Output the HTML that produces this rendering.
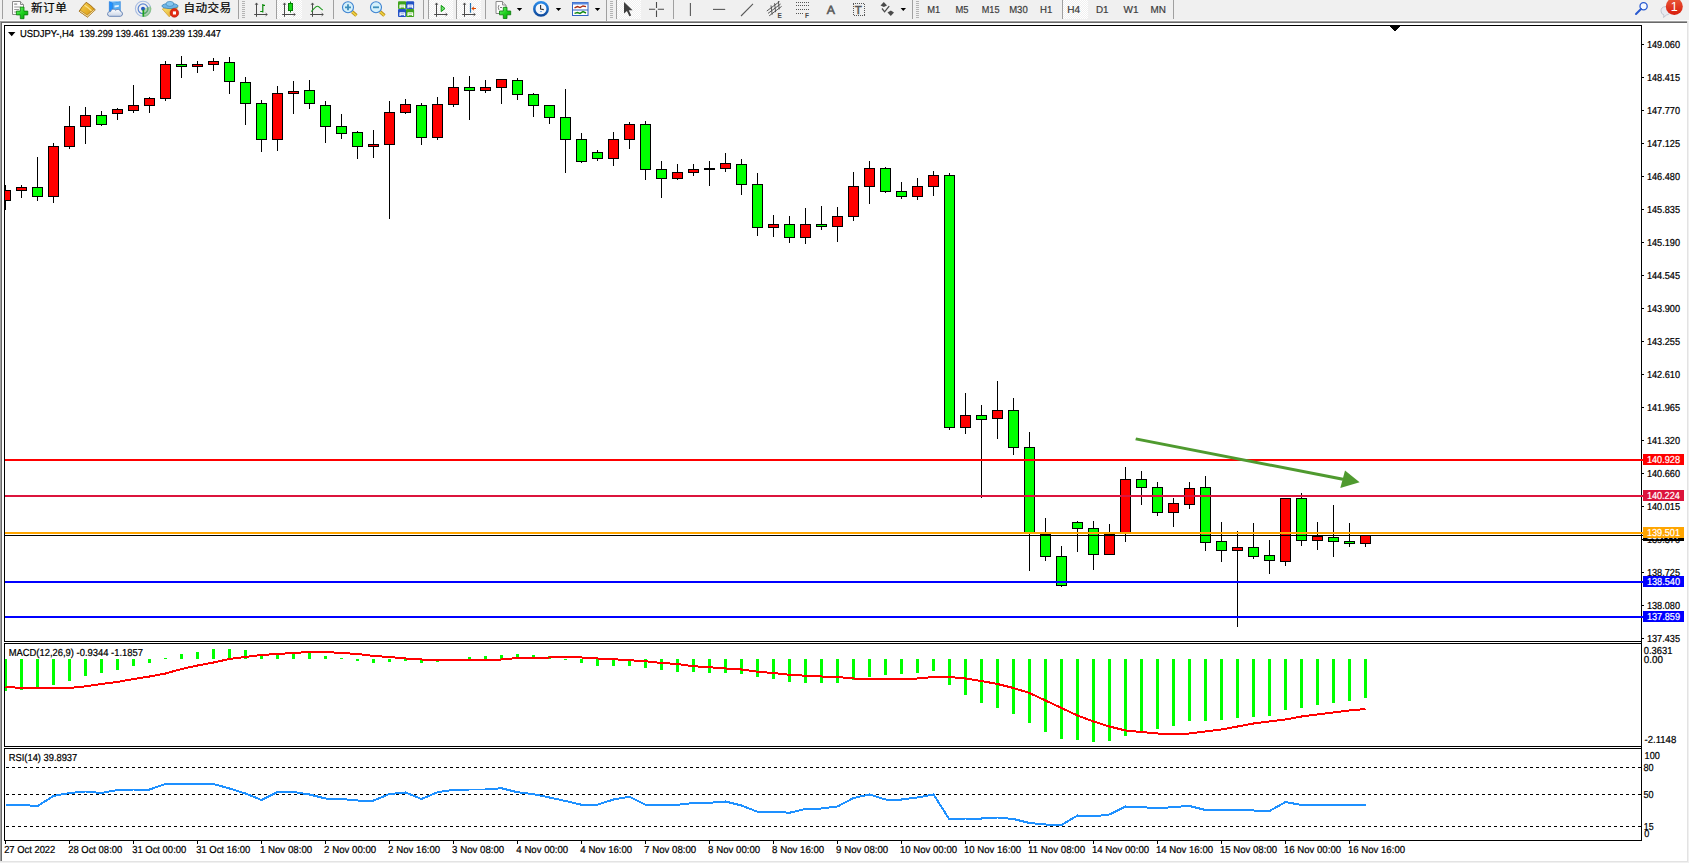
<!DOCTYPE html>
<html><head><meta charset="utf-8"><title>USDJPY-,H4</title>
<style>html,body{margin:0;padding:0;background:#f0f0f0;overflow:hidden}body{width:1689px;height:863px}</style>
</head><body>
<svg width="1689" height="863" viewBox="0 0 1689 863" font-family='"Liberation Sans","Noto Sans CJK SC",sans-serif' style="display:block">
<rect x="0" y="0" width="1689" height="863" fill="#f0f0f0"/>
<g shape-rendering="crispEdges">
<rect x="0" y="20" width="1689" height="1" fill="#fbfbfb"/>
<rect x="0" y="21" width="1687" height="1" fill="#a0a0a0"/>
<rect x="0" y="22" width="1687" height="1" fill="#696969"/>
<rect x="0" y="21" width="1" height="840" fill="#a0a0a0"/>
<rect x="1" y="22" width="1" height="839" fill="#696969"/>
<rect x="2" y="23" width="1685" height="838" fill="#ffffff"/>
<rect x="1687" y="21" width="1" height="841" fill="#e3e3e3"/>
<rect x="0" y="861" width="1688" height="1" fill="#e3e3e3"/>
<rect x="4" y="25" width="1638" height="1" fill="#000000"/>
<rect x="4" y="25" width="1" height="617" fill="#000000"/>
<rect x="4" y="641" width="1638" height="1" fill="#000000"/>
<rect x="1641" y="25" width="1" height="816" fill="#000000"/>
<rect x="4" y="643" width="1638" height="1" fill="#000000"/>
<rect x="4" y="643" width="1" height="104" fill="#000000"/>
<rect x="4" y="746" width="1638" height="1" fill="#000000"/>
<rect x="4" y="748" width="1638" height="1" fill="#000000"/>
<rect x="4" y="748" width="1" height="93" fill="#000000"/>
<rect x="4" y="840" width="1638" height="1" fill="#000000"/>
</g>
<defs><clipPath id="cm"><rect x="5" y="26" width="1636" height="615"/></clipPath></defs>
<g shape-rendering="crispEdges" clip-path="url(#cm)">
<rect x="5" y="185" width="1" height="25" fill="#000000"/>
<rect x="0" y="190" width="11" height="11" fill="#000000"/>
<rect x="1" y="191" width="9" height="9" fill="#ff0000"/>
<rect x="21" y="185" width="1" height="13" fill="#000000"/>
<rect x="16" y="187" width="11" height="4" fill="#000000"/>
<rect x="17" y="188" width="9" height="2" fill="#ff0000"/>
<rect x="37" y="157" width="1" height="44" fill="#000000"/>
<rect x="32" y="187" width="11" height="10" fill="#000000"/>
<rect x="33" y="188" width="9" height="8" fill="#00ff00"/>
<rect x="53" y="143" width="1" height="60" fill="#000000"/>
<rect x="48" y="146" width="11" height="51" fill="#000000"/>
<rect x="49" y="147" width="9" height="49" fill="#ff0000"/>
<rect x="69" y="106" width="1" height="43" fill="#000000"/>
<rect x="64" y="126" width="11" height="21" fill="#000000"/>
<rect x="65" y="127" width="9" height="19" fill="#ff0000"/>
<rect x="85" y="107" width="1" height="37" fill="#000000"/>
<rect x="80" y="115" width="11" height="12" fill="#000000"/>
<rect x="81" y="116" width="9" height="10" fill="#ff0000"/>
<rect x="101" y="111" width="1" height="15" fill="#000000"/>
<rect x="96" y="115" width="11" height="10" fill="#000000"/>
<rect x="97" y="116" width="9" height="8" fill="#00ff00"/>
<rect x="117" y="108" width="1" height="12" fill="#000000"/>
<rect x="112" y="109" width="11" height="5" fill="#000000"/>
<rect x="113" y="110" width="9" height="3" fill="#ff0000"/>
<rect x="133" y="85" width="1" height="28" fill="#000000"/>
<rect x="128" y="105" width="11" height="6" fill="#000000"/>
<rect x="129" y="106" width="9" height="4" fill="#ff0000"/>
<rect x="149" y="97" width="1" height="16" fill="#000000"/>
<rect x="144" y="98" width="11" height="8" fill="#000000"/>
<rect x="145" y="99" width="9" height="6" fill="#ff0000"/>
<rect x="165" y="61" width="1" height="40" fill="#000000"/>
<rect x="160" y="64" width="11" height="35" fill="#000000"/>
<rect x="161" y="65" width="9" height="33" fill="#ff0000"/>
<rect x="181" y="56" width="1" height="22" fill="#000000"/>
<rect x="176" y="64" width="11" height="3" fill="#000000"/>
<rect x="177" y="65" width="9" height="1" fill="#00ff00"/>
<rect x="197" y="61" width="1" height="12" fill="#000000"/>
<rect x="192" y="64" width="11" height="3" fill="#000000"/>
<rect x="193" y="65" width="9" height="1" fill="#ff0000"/>
<rect x="213" y="58" width="1" height="13" fill="#000000"/>
<rect x="208" y="61" width="11" height="4" fill="#000000"/>
<rect x="209" y="62" width="9" height="2" fill="#ff0000"/>
<rect x="229" y="57" width="1" height="37" fill="#000000"/>
<rect x="224" y="62" width="11" height="20" fill="#000000"/>
<rect x="225" y="63" width="9" height="18" fill="#00ff00"/>
<rect x="245" y="77" width="1" height="48" fill="#000000"/>
<rect x="240" y="82" width="11" height="22" fill="#000000"/>
<rect x="241" y="83" width="9" height="20" fill="#00ff00"/>
<rect x="261" y="100" width="1" height="52" fill="#000000"/>
<rect x="256" y="103" width="11" height="37" fill="#000000"/>
<rect x="257" y="104" width="9" height="35" fill="#00ff00"/>
<rect x="277" y="86" width="1" height="65" fill="#000000"/>
<rect x="272" y="93" width="11" height="47" fill="#000000"/>
<rect x="273" y="94" width="9" height="45" fill="#ff0000"/>
<rect x="293" y="81" width="1" height="33" fill="#000000"/>
<rect x="288" y="91" width="11" height="3" fill="#000000"/>
<rect x="289" y="92" width="9" height="1" fill="#ff0000"/>
<rect x="309" y="80" width="1" height="29" fill="#000000"/>
<rect x="304" y="90" width="11" height="14" fill="#000000"/>
<rect x="305" y="91" width="9" height="12" fill="#00ff00"/>
<rect x="325" y="101" width="1" height="42" fill="#000000"/>
<rect x="320" y="105" width="11" height="22" fill="#000000"/>
<rect x="321" y="106" width="9" height="20" fill="#00ff00"/>
<rect x="341" y="114" width="1" height="25" fill="#000000"/>
<rect x="336" y="126" width="11" height="8" fill="#000000"/>
<rect x="337" y="127" width="9" height="6" fill="#00ff00"/>
<rect x="357" y="131" width="1" height="28" fill="#000000"/>
<rect x="352" y="132" width="11" height="15" fill="#000000"/>
<rect x="353" y="133" width="9" height="13" fill="#00ff00"/>
<rect x="373" y="130" width="1" height="28" fill="#000000"/>
<rect x="368" y="144" width="11" height="3" fill="#000000"/>
<rect x="369" y="145" width="9" height="1" fill="#ff0000"/>
<rect x="389" y="101" width="1" height="118" fill="#000000"/>
<rect x="384" y="112" width="11" height="33" fill="#000000"/>
<rect x="385" y="113" width="9" height="31" fill="#ff0000"/>
<rect x="405" y="99" width="1" height="15" fill="#000000"/>
<rect x="400" y="104" width="11" height="9" fill="#000000"/>
<rect x="401" y="105" width="9" height="7" fill="#ff0000"/>
<rect x="421" y="103" width="1" height="42" fill="#000000"/>
<rect x="416" y="105" width="11" height="33" fill="#000000"/>
<rect x="417" y="106" width="9" height="31" fill="#00ff00"/>
<rect x="437" y="97" width="1" height="43" fill="#000000"/>
<rect x="432" y="104" width="11" height="34" fill="#000000"/>
<rect x="433" y="105" width="9" height="32" fill="#ff0000"/>
<rect x="453" y="77" width="1" height="30" fill="#000000"/>
<rect x="448" y="87" width="11" height="18" fill="#000000"/>
<rect x="449" y="88" width="9" height="16" fill="#ff0000"/>
<rect x="469" y="76" width="1" height="44" fill="#000000"/>
<rect x="464" y="87" width="11" height="4" fill="#000000"/>
<rect x="465" y="88" width="9" height="2" fill="#00ff00"/>
<rect x="485" y="80" width="1" height="13" fill="#000000"/>
<rect x="480" y="87" width="11" height="4" fill="#000000"/>
<rect x="481" y="88" width="9" height="2" fill="#ff0000"/>
<rect x="501" y="79" width="1" height="25" fill="#000000"/>
<rect x="496" y="79" width="11" height="9" fill="#000000"/>
<rect x="497" y="80" width="9" height="7" fill="#ff0000"/>
<rect x="517" y="78" width="1" height="22" fill="#000000"/>
<rect x="512" y="80" width="11" height="15" fill="#000000"/>
<rect x="513" y="81" width="9" height="13" fill="#00ff00"/>
<rect x="533" y="93" width="1" height="24" fill="#000000"/>
<rect x="528" y="94" width="11" height="12" fill="#000000"/>
<rect x="529" y="95" width="9" height="10" fill="#00ff00"/>
<rect x="549" y="105" width="1" height="19" fill="#000000"/>
<rect x="544" y="105" width="11" height="13" fill="#000000"/>
<rect x="545" y="106" width="9" height="11" fill="#00ff00"/>
<rect x="565" y="89" width="1" height="84" fill="#000000"/>
<rect x="560" y="117" width="11" height="23" fill="#000000"/>
<rect x="561" y="118" width="9" height="21" fill="#00ff00"/>
<rect x="581" y="133" width="1" height="30" fill="#000000"/>
<rect x="576" y="139" width="11" height="23" fill="#000000"/>
<rect x="577" y="140" width="9" height="21" fill="#00ff00"/>
<rect x="597" y="150" width="1" height="11" fill="#000000"/>
<rect x="592" y="152" width="11" height="7" fill="#000000"/>
<rect x="593" y="153" width="9" height="5" fill="#00ff00"/>
<rect x="613" y="132" width="1" height="34" fill="#000000"/>
<rect x="608" y="139" width="11" height="20" fill="#000000"/>
<rect x="609" y="140" width="9" height="18" fill="#ff0000"/>
<rect x="629" y="122" width="1" height="27" fill="#000000"/>
<rect x="624" y="124" width="11" height="16" fill="#000000"/>
<rect x="625" y="125" width="9" height="14" fill="#ff0000"/>
<rect x="645" y="121" width="1" height="59" fill="#000000"/>
<rect x="640" y="124" width="11" height="46" fill="#000000"/>
<rect x="641" y="125" width="9" height="44" fill="#00ff00"/>
<rect x="661" y="161" width="1" height="37" fill="#000000"/>
<rect x="656" y="169" width="11" height="10" fill="#000000"/>
<rect x="657" y="170" width="9" height="8" fill="#00ff00"/>
<rect x="677" y="164" width="1" height="16" fill="#000000"/>
<rect x="672" y="172" width="11" height="7" fill="#000000"/>
<rect x="673" y="173" width="9" height="5" fill="#ff0000"/>
<rect x="693" y="164" width="1" height="12" fill="#000000"/>
<rect x="688" y="169" width="11" height="4" fill="#000000"/>
<rect x="689" y="170" width="9" height="2" fill="#ff0000"/>
<rect x="709" y="161" width="1" height="25" fill="#000000"/>
<rect x="704" y="168" width="11" height="2" fill="#000000"/>
<rect x="725" y="153" width="1" height="19" fill="#000000"/>
<rect x="720" y="163" width="11" height="6" fill="#000000"/>
<rect x="721" y="164" width="9" height="4" fill="#ff0000"/>
<rect x="741" y="159" width="1" height="36" fill="#000000"/>
<rect x="736" y="164" width="11" height="21" fill="#000000"/>
<rect x="737" y="165" width="9" height="19" fill="#00ff00"/>
<rect x="757" y="173" width="1" height="63" fill="#000000"/>
<rect x="752" y="184" width="11" height="44" fill="#000000"/>
<rect x="753" y="185" width="9" height="42" fill="#00ff00"/>
<rect x="773" y="215" width="1" height="22" fill="#000000"/>
<rect x="768" y="224" width="11" height="4" fill="#000000"/>
<rect x="769" y="225" width="9" height="2" fill="#ff0000"/>
<rect x="789" y="216" width="1" height="27" fill="#000000"/>
<rect x="784" y="224" width="11" height="14" fill="#000000"/>
<rect x="785" y="225" width="9" height="12" fill="#00ff00"/>
<rect x="805" y="208" width="1" height="36" fill="#000000"/>
<rect x="800" y="224" width="11" height="14" fill="#000000"/>
<rect x="801" y="225" width="9" height="12" fill="#ff0000"/>
<rect x="821" y="206" width="1" height="24" fill="#000000"/>
<rect x="816" y="224" width="11" height="3" fill="#000000"/>
<rect x="817" y="225" width="9" height="1" fill="#00ff00"/>
<rect x="837" y="207" width="1" height="35" fill="#000000"/>
<rect x="832" y="216" width="11" height="11" fill="#000000"/>
<rect x="833" y="217" width="9" height="9" fill="#ff0000"/>
<rect x="853" y="172" width="1" height="49" fill="#000000"/>
<rect x="848" y="186" width="11" height="31" fill="#000000"/>
<rect x="849" y="187" width="9" height="29" fill="#ff0000"/>
<rect x="869" y="161" width="1" height="43" fill="#000000"/>
<rect x="864" y="168" width="11" height="19" fill="#000000"/>
<rect x="865" y="169" width="9" height="17" fill="#ff0000"/>
<rect x="885" y="167" width="1" height="26" fill="#000000"/>
<rect x="880" y="168" width="11" height="24" fill="#000000"/>
<rect x="881" y="169" width="9" height="22" fill="#00ff00"/>
<rect x="901" y="182" width="1" height="17" fill="#000000"/>
<rect x="896" y="191" width="11" height="6" fill="#000000"/>
<rect x="897" y="192" width="9" height="4" fill="#00ff00"/>
<rect x="917" y="178" width="1" height="22" fill="#000000"/>
<rect x="912" y="186" width="11" height="11" fill="#000000"/>
<rect x="913" y="187" width="9" height="9" fill="#ff0000"/>
<rect x="933" y="171" width="1" height="25" fill="#000000"/>
<rect x="928" y="175" width="11" height="12" fill="#000000"/>
<rect x="929" y="176" width="9" height="10" fill="#ff0000"/>
<rect x="949" y="173" width="1" height="257" fill="#000000"/>
<rect x="944" y="175" width="11" height="253" fill="#000000"/>
<rect x="945" y="176" width="9" height="251" fill="#00ff00"/>
<rect x="965" y="393" width="1" height="41" fill="#000000"/>
<rect x="960" y="415" width="11" height="13" fill="#000000"/>
<rect x="961" y="416" width="9" height="11" fill="#ff0000"/>
<rect x="981" y="405" width="1" height="93" fill="#000000"/>
<rect x="976" y="415" width="11" height="5" fill="#000000"/>
<rect x="977" y="416" width="9" height="3" fill="#00ff00"/>
<rect x="997" y="381" width="1" height="58" fill="#000000"/>
<rect x="992" y="410" width="11" height="9" fill="#000000"/>
<rect x="993" y="411" width="9" height="7" fill="#ff0000"/>
<rect x="1013" y="398" width="1" height="57" fill="#000000"/>
<rect x="1008" y="410" width="11" height="38" fill="#000000"/>
<rect x="1009" y="411" width="9" height="36" fill="#00ff00"/>
<rect x="1029" y="432" width="1" height="139" fill="#000000"/>
<rect x="1024" y="447" width="11" height="87" fill="#000000"/>
<rect x="1025" y="448" width="9" height="85" fill="#00ff00"/>
<rect x="1045" y="518" width="1" height="43" fill="#000000"/>
<rect x="1040" y="534" width="11" height="23" fill="#000000"/>
<rect x="1041" y="535" width="9" height="21" fill="#00ff00"/>
<rect x="1061" y="546" width="1" height="41" fill="#000000"/>
<rect x="1056" y="556" width="11" height="30" fill="#000000"/>
<rect x="1057" y="557" width="9" height="28" fill="#00ff00"/>
<rect x="1077" y="521" width="1" height="31" fill="#000000"/>
<rect x="1072" y="522" width="11" height="7" fill="#000000"/>
<rect x="1073" y="523" width="9" height="5" fill="#00ff00"/>
<rect x="1093" y="521" width="1" height="49" fill="#000000"/>
<rect x="1088" y="528" width="11" height="27" fill="#000000"/>
<rect x="1089" y="529" width="9" height="25" fill="#00ff00"/>
<rect x="1109" y="524" width="1" height="31" fill="#000000"/>
<rect x="1104" y="534" width="11" height="21" fill="#000000"/>
<rect x="1105" y="535" width="9" height="19" fill="#ff0000"/>
<rect x="1125" y="467" width="1" height="75" fill="#000000"/>
<rect x="1120" y="479" width="11" height="55" fill="#000000"/>
<rect x="1121" y="480" width="9" height="53" fill="#ff0000"/>
<rect x="1141" y="471" width="1" height="34" fill="#000000"/>
<rect x="1136" y="479" width="11" height="9" fill="#000000"/>
<rect x="1137" y="480" width="9" height="7" fill="#00ff00"/>
<rect x="1157" y="482" width="1" height="34" fill="#000000"/>
<rect x="1152" y="487" width="11" height="26" fill="#000000"/>
<rect x="1153" y="488" width="9" height="24" fill="#00ff00"/>
<rect x="1173" y="498" width="1" height="29" fill="#000000"/>
<rect x="1168" y="503" width="11" height="10" fill="#000000"/>
<rect x="1169" y="504" width="9" height="8" fill="#ff0000"/>
<rect x="1189" y="482" width="1" height="27" fill="#000000"/>
<rect x="1184" y="488" width="11" height="17" fill="#000000"/>
<rect x="1185" y="489" width="9" height="15" fill="#ff0000"/>
<rect x="1205" y="476" width="1" height="75" fill="#000000"/>
<rect x="1200" y="487" width="11" height="56" fill="#000000"/>
<rect x="1201" y="488" width="9" height="54" fill="#00ff00"/>
<rect x="1221" y="522" width="1" height="40" fill="#000000"/>
<rect x="1216" y="541" width="11" height="10" fill="#000000"/>
<rect x="1217" y="542" width="9" height="8" fill="#00ff00"/>
<rect x="1237" y="531" width="1" height="96" fill="#000000"/>
<rect x="1232" y="547" width="11" height="4" fill="#000000"/>
<rect x="1233" y="548" width="9" height="2" fill="#ff0000"/>
<rect x="1253" y="523" width="1" height="36" fill="#000000"/>
<rect x="1248" y="547" width="11" height="10" fill="#000000"/>
<rect x="1249" y="548" width="9" height="8" fill="#00ff00"/>
<rect x="1269" y="540" width="1" height="34" fill="#000000"/>
<rect x="1264" y="555" width="11" height="6" fill="#000000"/>
<rect x="1265" y="556" width="9" height="4" fill="#00ff00"/>
<rect x="1285" y="498" width="1" height="68" fill="#000000"/>
<rect x="1280" y="498" width="11" height="64" fill="#000000"/>
<rect x="1281" y="499" width="9" height="62" fill="#ff0000"/>
<rect x="1301" y="493" width="1" height="53" fill="#000000"/>
<rect x="1296" y="498" width="11" height="43" fill="#000000"/>
<rect x="1297" y="499" width="9" height="41" fill="#00ff00"/>
<rect x="1317" y="522" width="1" height="28" fill="#000000"/>
<rect x="1312" y="536" width="11" height="5" fill="#000000"/>
<rect x="1313" y="537" width="9" height="3" fill="#ff0000"/>
<rect x="1333" y="505" width="1" height="52" fill="#000000"/>
<rect x="1328" y="537" width="11" height="5" fill="#000000"/>
<rect x="1329" y="538" width="9" height="3" fill="#00ff00"/>
<rect x="1349" y="523" width="1" height="24" fill="#000000"/>
<rect x="1344" y="541" width="11" height="3" fill="#000000"/>
<rect x="1345" y="542" width="9" height="1" fill="#00ff00"/>
<rect x="1365" y="535" width="1" height="12" fill="#000000"/>
<rect x="1360" y="535" width="11" height="9" fill="#000000"/>
<rect x="1361" y="536" width="9" height="7" fill="#ff0000"/>
</g><g shape-rendering="crispEdges">
<rect x="5" y="459" width="1638" height="2" fill="#ff0000"/>
<rect x="5" y="495" width="1638" height="2" fill="#dc143c"/>
<rect x="5" y="535" width="1638" height="1" fill="#000000"/>
<rect x="5" y="532" width="1638" height="2" fill="#ffa500"/>
<rect x="5" y="581" width="1638" height="2" fill="#0000ff"/>
<rect x="5" y="616" width="1638" height="2" fill="#0000ff"/>
<polygon points="1389,26 1400,26 1394.5,31.5" fill="#000"/>
</g>
<g fill="#4f9a2f" stroke="none"><path d="M1135.3,440.3 L1136.1,437.5 L1343.4,477.8 L1342.6,480.7 Z"/><polygon points="1359.6,482.3 1345,470.6 1340.3,487.9"/></g>
<defs><clipPath id="c2"><rect x="5" y="644" width="1636" height="102"/></clipPath><clipPath id="c3"><rect x="5" y="749" width="1636" height="91"/></clipPath></defs>
<g shape-rendering="crispEdges" clip-path="url(#c2)">
<rect x="4" y="659" width="3" height="32" fill="#00ff00"/>
<rect x="20" y="659" width="3" height="31" fill="#00ff00"/>
<rect x="36" y="659" width="3" height="28" fill="#00ff00"/>
<rect x="52" y="659" width="3" height="26" fill="#00ff00"/>
<rect x="68" y="659" width="3" height="22" fill="#00ff00"/>
<rect x="84" y="659" width="3" height="17" fill="#00ff00"/>
<rect x="100" y="659" width="3" height="14" fill="#00ff00"/>
<rect x="116" y="659" width="3" height="11" fill="#00ff00"/>
<rect x="132" y="659" width="3" height="7" fill="#00ff00"/>
<rect x="148" y="659" width="3" height="4" fill="#00ff00"/>
<rect x="164" y="658" width="3" height="1" fill="#00ff00"/>
<rect x="180" y="654" width="3" height="5" fill="#00ff00"/>
<rect x="196" y="652" width="3" height="7" fill="#00ff00"/>
<rect x="212" y="649" width="3" height="10" fill="#00ff00"/>
<rect x="228" y="649" width="3" height="10" fill="#00ff00"/>
<rect x="244" y="650" width="3" height="9" fill="#00ff00"/>
<rect x="260" y="654" width="3" height="5" fill="#00ff00"/>
<rect x="276" y="653" width="3" height="6" fill="#00ff00"/>
<rect x="292" y="653" width="3" height="6" fill="#00ff00"/>
<rect x="308" y="653" width="3" height="6" fill="#00ff00"/>
<rect x="324" y="656" width="3" height="3" fill="#00ff00"/>
<rect x="340" y="658" width="3" height="1" fill="#00ff00"/>
<rect x="356" y="659" width="3" height="2" fill="#00ff00"/>
<rect x="372" y="659" width="3" height="4" fill="#00ff00"/>
<rect x="388" y="659" width="3" height="3" fill="#00ff00"/>
<rect x="404" y="659" width="3" height="2" fill="#00ff00"/>
<rect x="420" y="659" width="3" height="4" fill="#00ff00"/>
<rect x="436" y="659" width="3" height="3" fill="#00ff00"/>
<rect x="452" y="659" width="3" height="1" fill="#00ff00"/>
<rect x="468" y="657" width="3" height="2" fill="#00ff00"/>
<rect x="484" y="656" width="3" height="3" fill="#00ff00"/>
<rect x="500" y="655" width="3" height="4" fill="#00ff00"/>
<rect x="516" y="654" width="3" height="5" fill="#00ff00"/>
<rect x="532" y="655" width="3" height="4" fill="#00ff00"/>
<rect x="548" y="656" width="3" height="3" fill="#00ff00"/>
<rect x="564" y="659" width="3" height="1" fill="#00ff00"/>
<rect x="580" y="659" width="3" height="4" fill="#00ff00"/>
<rect x="596" y="659" width="3" height="7" fill="#00ff00"/>
<rect x="612" y="659" width="3" height="7" fill="#00ff00"/>
<rect x="628" y="659" width="3" height="7" fill="#00ff00"/>
<rect x="644" y="659" width="3" height="9" fill="#00ff00"/>
<rect x="660" y="659" width="3" height="11" fill="#00ff00"/>
<rect x="676" y="659" width="3" height="13" fill="#00ff00"/>
<rect x="692" y="659" width="3" height="13" fill="#00ff00"/>
<rect x="708" y="659" width="3" height="14" fill="#00ff00"/>
<rect x="724" y="659" width="3" height="14" fill="#00ff00"/>
<rect x="740" y="659" width="3" height="15" fill="#00ff00"/>
<rect x="756" y="659" width="3" height="18" fill="#00ff00"/>
<rect x="772" y="659" width="3" height="20" fill="#00ff00"/>
<rect x="788" y="659" width="3" height="23" fill="#00ff00"/>
<rect x="804" y="659" width="3" height="24" fill="#00ff00"/>
<rect x="820" y="659" width="3" height="24" fill="#00ff00"/>
<rect x="836" y="659" width="3" height="24" fill="#00ff00"/>
<rect x="852" y="659" width="3" height="21" fill="#00ff00"/>
<rect x="868" y="659" width="3" height="18" fill="#00ff00"/>
<rect x="884" y="659" width="3" height="16" fill="#00ff00"/>
<rect x="900" y="659" width="3" height="15" fill="#00ff00"/>
<rect x="916" y="659" width="3" height="14" fill="#00ff00"/>
<rect x="932" y="659" width="3" height="12" fill="#00ff00"/>
<rect x="948" y="659" width="3" height="26" fill="#00ff00"/>
<rect x="964" y="659" width="3" height="36" fill="#00ff00"/>
<rect x="980" y="659" width="3" height="44" fill="#00ff00"/>
<rect x="996" y="659" width="3" height="49" fill="#00ff00"/>
<rect x="1012" y="659" width="3" height="55" fill="#00ff00"/>
<rect x="1028" y="659" width="3" height="64" fill="#00ff00"/>
<rect x="1044" y="659" width="3" height="73" fill="#00ff00"/>
<rect x="1060" y="659" width="3" height="80" fill="#00ff00"/>
<rect x="1076" y="659" width="3" height="81" fill="#00ff00"/>
<rect x="1092" y="659" width="3" height="83" fill="#00ff00"/>
<rect x="1108" y="659" width="3" height="82" fill="#00ff00"/>
<rect x="1124" y="659" width="3" height="77" fill="#00ff00"/>
<rect x="1140" y="659" width="3" height="74" fill="#00ff00"/>
<rect x="1156" y="659" width="3" height="70" fill="#00ff00"/>
<rect x="1172" y="659" width="3" height="67" fill="#00ff00"/>
<rect x="1188" y="659" width="3" height="62" fill="#00ff00"/>
<rect x="1204" y="659" width="3" height="62" fill="#00ff00"/>
<rect x="1220" y="659" width="3" height="61" fill="#00ff00"/>
<rect x="1236" y="659" width="3" height="59" fill="#00ff00"/>
<rect x="1252" y="659" width="3" height="58" fill="#00ff00"/>
<rect x="1268" y="659" width="3" height="57" fill="#00ff00"/>
<rect x="1284" y="659" width="3" height="51" fill="#00ff00"/>
<rect x="1300" y="659" width="3" height="49" fill="#00ff00"/>
<rect x="1316" y="659" width="3" height="46" fill="#00ff00"/>
<rect x="1332" y="659" width="3" height="44" fill="#00ff00"/>
<rect x="1348" y="659" width="3" height="42" fill="#00ff00"/>
<rect x="1364" y="659" width="3" height="39" fill="#00ff00"/>
</g>
<polyline points="5.5,687 21.5,687.9 37.5,687.9 53.5,687.9 69.5,687.9 85.5,686.4 101.5,684 117.5,682 133.5,679 149.5,676.5 165.5,673.5 181.5,669 197.5,665.5 213.5,662.5 229.5,659 245.5,657 261.5,655 277.5,654 293.5,653 309.5,652 325.5,652 341.5,653 357.5,654 373.5,656 389.5,657 405.5,658.5 421.5,659.5 437.5,660 453.5,660 469.5,660 485.5,660 501.5,659.5 517.5,658 533.5,658 549.5,657.5 565.5,657 581.5,657.5 597.5,658.5 613.5,659.25 629.5,660.25 645.5,661.25 661.5,663 677.5,664 693.5,666.25 709.5,667.25 725.5,668.5 741.5,669.5 757.5,671.75 773.5,673 789.5,674.75 805.5,675.75 821.5,676.5 837.5,677 853.5,678.5 869.5,678.75 885.5,678.75 901.5,678.75 917.5,678.5 933.5,677 949.5,677 965.5,678.5 981.5,681 997.5,684 1013.5,688 1029.5,693 1045.5,700.5 1061.5,708 1077.5,715.5 1093.5,721.5 1109.5,726.5 1125.5,730.5 1141.5,732 1157.5,733.5 1173.5,733.75 1189.5,733.5 1205.5,731.5 1221.5,729.5 1237.5,726.5 1253.5,723.5 1269.5,721.5 1285.5,719.5 1301.5,716.5 1317.5,714.5 1333.5,712.5 1349.5,710.5 1365.5,709" fill="none" stroke="#ff0000" stroke-width="2" stroke-linejoin="round" shape-rendering="crispEdges" clip-path="url(#c2)"/>
<g shape-rendering="crispEdges" stroke="#000" stroke-width="1" stroke-dasharray="3 3">
<line x1="6" y1="767.5" x2="1641" y2="767.5"/>
<line x1="6" y1="794.5" x2="1641" y2="794.5"/>
<line x1="6" y1="826.5" x2="1641" y2="826.5"/>
</g>
<polyline points="5.5,805 21.5,805 37.5,806 53.5,796 69.5,793 85.5,791.5 101.5,793 117.5,790 133.5,789.5 149.5,789.5 165.5,784 181.5,784 197.5,784 213.5,784 229.5,788.5 245.5,793.5 261.5,800 277.5,792 293.5,792 309.5,794.5 325.5,798.5 341.5,799 357.5,800.5 373.5,800.5 389.5,794 405.5,792.5 421.5,799 437.5,792.25 453.5,789.75 469.5,789.5 485.5,789.5 501.5,788.25 517.5,792.25 533.5,794.25 549.5,797.5 565.5,801 581.5,804.75 597.5,804.75 613.5,799.5 629.5,796.75 645.5,804.75 661.5,804.75 677.5,804.75 693.5,803 709.5,802.75 725.5,801.5 741.5,805.5 757.5,811.75 773.5,811.75 789.5,812.75 805.5,809 821.5,808.5 837.5,806.5 853.5,798 869.5,794.5 885.5,799.5 901.5,799.5 917.5,797.5 933.5,794.5 949.5,819.5 965.5,818.5 981.5,818.5 997.5,817.5 1013.5,819 1029.5,823 1045.5,824.5 1061.5,825 1077.5,815.5 1093.5,816.5 1109.5,814.5 1125.5,806.5 1141.5,807 1157.5,808.5 1173.5,807 1189.5,806 1205.5,810 1221.5,810 1237.5,810 1253.5,810.5 1269.5,811 1285.5,802 1301.5,805 1317.5,805 1333.5,805 1349.5,805 1365.5,805" fill="none" stroke="#1e90ff" stroke-width="2" stroke-linejoin="round" shape-rendering="crispEdges" clip-path="url(#c3)"/>
<g shape-rendering="crispEdges">
<rect x="1642" y="44" width="2" height="1" fill="#000000"/>
<rect x="1642" y="77" width="2" height="1" fill="#000000"/>
<rect x="1642" y="110" width="2" height="1" fill="#000000"/>
<rect x="1642" y="143" width="2" height="1" fill="#000000"/>
<rect x="1642" y="176" width="2" height="1" fill="#000000"/>
<rect x="1642" y="209" width="2" height="1" fill="#000000"/>
<rect x="1642" y="242" width="2" height="1" fill="#000000"/>
<rect x="1642" y="275" width="2" height="1" fill="#000000"/>
<rect x="1642" y="308" width="2" height="1" fill="#000000"/>
<rect x="1642" y="341" width="2" height="1" fill="#000000"/>
<rect x="1642" y="374" width="2" height="1" fill="#000000"/>
<rect x="1642" y="407" width="2" height="1" fill="#000000"/>
<rect x="1642" y="440" width="2" height="1" fill="#000000"/>
<rect x="1642" y="473" width="2" height="1" fill="#000000"/>
<rect x="1642" y="506" width="2" height="1" fill="#000000"/>
<rect x="1642" y="539" width="2" height="1" fill="#000000"/>
<rect x="1642" y="572" width="2" height="1" fill="#000000"/>
<rect x="1642" y="605" width="2" height="1" fill="#000000"/>
<rect x="1642" y="638" width="2" height="1" fill="#000000"/>
</g>
<text x="1646.92" y="48" font-size="10.1" fill="#000" stroke="#000" stroke-width="0.22" textLength="33.13" lengthAdjust="spacingAndGlyphs" text-rendering="geometricPrecision">149.060</text>
<text x="1646.92" y="81" font-size="10.1" fill="#000" stroke="#000" stroke-width="0.22" textLength="33.13" lengthAdjust="spacingAndGlyphs" text-rendering="geometricPrecision">148.415</text>
<text x="1646.92" y="114" font-size="10.1" fill="#000" stroke="#000" stroke-width="0.22" textLength="33.13" lengthAdjust="spacingAndGlyphs" text-rendering="geometricPrecision">147.770</text>
<text x="1646.92" y="147" font-size="10.1" fill="#000" stroke="#000" stroke-width="0.22" textLength="33.13" lengthAdjust="spacingAndGlyphs" text-rendering="geometricPrecision">147.125</text>
<text x="1646.92" y="180" font-size="10.1" fill="#000" stroke="#000" stroke-width="0.22" textLength="33.13" lengthAdjust="spacingAndGlyphs" text-rendering="geometricPrecision">146.480</text>
<text x="1646.92" y="213" font-size="10.1" fill="#000" stroke="#000" stroke-width="0.22" textLength="33.13" lengthAdjust="spacingAndGlyphs" text-rendering="geometricPrecision">145.835</text>
<text x="1646.92" y="246" font-size="10.1" fill="#000" stroke="#000" stroke-width="0.22" textLength="33.13" lengthAdjust="spacingAndGlyphs" text-rendering="geometricPrecision">145.190</text>
<text x="1646.92" y="279" font-size="10.1" fill="#000" stroke="#000" stroke-width="0.22" textLength="33.13" lengthAdjust="spacingAndGlyphs" text-rendering="geometricPrecision">144.545</text>
<text x="1646.92" y="312" font-size="10.1" fill="#000" stroke="#000" stroke-width="0.22" textLength="33.13" lengthAdjust="spacingAndGlyphs" text-rendering="geometricPrecision">143.900</text>
<text x="1646.92" y="345" font-size="10.1" fill="#000" stroke="#000" stroke-width="0.22" textLength="33.13" lengthAdjust="spacingAndGlyphs" text-rendering="geometricPrecision">143.255</text>
<text x="1646.92" y="378" font-size="10.1" fill="#000" stroke="#000" stroke-width="0.22" textLength="33.13" lengthAdjust="spacingAndGlyphs" text-rendering="geometricPrecision">142.610</text>
<text x="1646.92" y="411" font-size="10.1" fill="#000" stroke="#000" stroke-width="0.22" textLength="33.13" lengthAdjust="spacingAndGlyphs" text-rendering="geometricPrecision">141.965</text>
<text x="1646.92" y="444" font-size="10.1" fill="#000" stroke="#000" stroke-width="0.22" textLength="33.13" lengthAdjust="spacingAndGlyphs" text-rendering="geometricPrecision">141.320</text>
<text x="1646.92" y="477" font-size="10.1" fill="#000" stroke="#000" stroke-width="0.22" textLength="33.13" lengthAdjust="spacingAndGlyphs" text-rendering="geometricPrecision">140.660</text>
<text x="1646.92" y="510" font-size="10.1" fill="#000" stroke="#000" stroke-width="0.22" textLength="33.13" lengthAdjust="spacingAndGlyphs" text-rendering="geometricPrecision">140.015</text>
<text x="1646.92" y="543" font-size="10.1" fill="#000" stroke="#000" stroke-width="0.22" textLength="33.13" lengthAdjust="spacingAndGlyphs" text-rendering="geometricPrecision">139.370</text>
<text x="1646.92" y="576" font-size="10.1" fill="#000" stroke="#000" stroke-width="0.22" textLength="33.13" lengthAdjust="spacingAndGlyphs" text-rendering="geometricPrecision">138.725</text>
<text x="1646.92" y="609" font-size="10.1" fill="#000" stroke="#000" stroke-width="0.22" textLength="33.13" lengthAdjust="spacingAndGlyphs" text-rendering="geometricPrecision">138.080</text>
<text x="1646.92" y="642" font-size="10.1" fill="#000" stroke="#000" stroke-width="0.22" textLength="33.13" lengthAdjust="spacingAndGlyphs" text-rendering="geometricPrecision">137.435</text>
<rect x="1643" y="530" width="41" height="11" fill="#000" shape-rendering="crispEdges"/>
<text x="1646.92" y="539" font-size="10.1" fill="#fff" stroke="#fff" stroke-width="0.22" textLength="33.13" lengthAdjust="spacingAndGlyphs" text-rendering="geometricPrecision">139.447</text>
<rect x="1643" y="454" width="41" height="11" fill="#ff0000" shape-rendering="crispEdges"/>
<text x="1646.92" y="463" font-size="10.1" fill="#fff" stroke="#fff" stroke-width="0.22" textLength="33.13" lengthAdjust="spacingAndGlyphs" text-rendering="geometricPrecision">140.928</text>
<rect x="1643" y="490" width="41" height="11" fill="#dc143c" shape-rendering="crispEdges"/>
<text x="1646.92" y="499" font-size="10.1" fill="#fff" stroke="#fff" stroke-width="0.22" textLength="32.90" lengthAdjust="spacingAndGlyphs" text-rendering="geometricPrecision">140.224</text>
<rect x="1643" y="527" width="41" height="11" fill="#ffa500" shape-rendering="crispEdges"/>
<text x="1646.92" y="536" font-size="10.1" fill="#fff" stroke="#fff" stroke-width="0.22" textLength="33.13" lengthAdjust="spacingAndGlyphs" text-rendering="geometricPrecision">139.501</text>
<rect x="1643" y="576" width="41" height="11" fill="#0000ff" shape-rendering="crispEdges"/>
<text x="1646.92" y="585" font-size="10.1" fill="#fff" stroke="#fff" stroke-width="0.22" textLength="33.13" lengthAdjust="spacingAndGlyphs" text-rendering="geometricPrecision">138.540</text>
<rect x="1643" y="611" width="41" height="11" fill="#0000ff" shape-rendering="crispEdges"/>
<text x="1646.92" y="620" font-size="10.1" fill="#fff" stroke="#fff" stroke-width="0.22" textLength="33.13" lengthAdjust="spacingAndGlyphs" text-rendering="geometricPrecision">137.859</text>
<text x="1643.77" y="654.1" font-size="10.1" fill="#000" stroke="#000" stroke-width="0.22" textLength="28.58" lengthAdjust="spacingAndGlyphs" text-rendering="geometricPrecision">0.3631</text>
<text x="1643.76" y="663" font-size="10.1" fill="#000" stroke="#000" stroke-width="0.22" textLength="19.14" lengthAdjust="spacingAndGlyphs" text-rendering="geometricPrecision">0.00</text>
<text x="1644.53" y="742.8" font-size="10.1" fill="#000" stroke="#000" stroke-width="0.22" textLength="31.68" lengthAdjust="spacingAndGlyphs" text-rendering="geometricPrecision">-2.1148</text>
<text x="1644.57" y="759" font-size="10.1" fill="#000" stroke="#000" stroke-width="0.22" textLength="15.24" lengthAdjust="spacingAndGlyphs" text-rendering="geometricPrecision">100</text>
<text x="1643.55" y="770.5" font-size="10.1" fill="#000" stroke="#000" stroke-width="0.22" textLength="10.14" lengthAdjust="spacingAndGlyphs" text-rendering="geometricPrecision">80</text>
<text x="1643.55" y="797.6" font-size="10.1" fill="#000" stroke="#000" stroke-width="0.22" textLength="10.14" lengthAdjust="spacingAndGlyphs" text-rendering="geometricPrecision">50</text>
<text x="1643.84" y="829.7" font-size="10.1" fill="#000" stroke="#000" stroke-width="0.22" textLength="9.83" lengthAdjust="spacingAndGlyphs" text-rendering="geometricPrecision">15</text>
<text x="1644.28" y="836.9" font-size="10.1" fill="#000" stroke="#000" stroke-width="0.22" textLength="5.06" lengthAdjust="spacingAndGlyphs" text-rendering="geometricPrecision">0</text>
<polygon points="8,32 15.4,32 11.7,36.2" fill="#000"/>
<text x="19.90" y="36.9" font-size="10.1" fill="#000" stroke="#000" stroke-width="0.22" textLength="54.05" lengthAdjust="spacingAndGlyphs" text-rendering="geometricPrecision">USDJPY-,H4</text>
<text x="79.56" y="36.9" font-size="10.1" fill="#000" stroke="#000" stroke-width="0.22" textLength="141.37" lengthAdjust="spacingAndGlyphs" text-rendering="geometricPrecision">139.299 139.461 139.239 139.447</text>
<text x="8.70" y="656" font-size="10.1" fill="#000" stroke="#000" stroke-width="0.22" textLength="134.22" lengthAdjust="spacingAndGlyphs" text-rendering="geometricPrecision">MACD(12,26,9) -0.9344 -1.1857</text>
<text x="8.81" y="760.5" font-size="10.1" fill="#000" stroke="#000" stroke-width="0.22" textLength="68.43" lengthAdjust="spacingAndGlyphs" text-rendering="geometricPrecision">RSI(14) 39.8937</text>
<g shape-rendering="crispEdges">
<rect x="5" y="841" width="1" height="3" fill="#000000"/>
<rect x="69" y="841" width="1" height="3" fill="#000000"/>
<rect x="133" y="841" width="1" height="3" fill="#000000"/>
<rect x="197" y="841" width="1" height="3" fill="#000000"/>
<rect x="261" y="841" width="1" height="3" fill="#000000"/>
<rect x="325" y="841" width="1" height="3" fill="#000000"/>
<rect x="389" y="841" width="1" height="3" fill="#000000"/>
<rect x="453" y="841" width="1" height="3" fill="#000000"/>
<rect x="517" y="841" width="1" height="3" fill="#000000"/>
<rect x="581" y="841" width="1" height="3" fill="#000000"/>
<rect x="645" y="841" width="1" height="3" fill="#000000"/>
<rect x="709" y="841" width="1" height="3" fill="#000000"/>
<rect x="773" y="841" width="1" height="3" fill="#000000"/>
<rect x="837" y="841" width="1" height="3" fill="#000000"/>
<rect x="901" y="841" width="1" height="3" fill="#000000"/>
<rect x="965" y="841" width="1" height="3" fill="#000000"/>
<rect x="1029" y="841" width="1" height="3" fill="#000000"/>
<rect x="1093" y="841" width="1" height="3" fill="#000000"/>
<rect x="1157" y="841" width="1" height="3" fill="#000000"/>
<rect x="1221" y="841" width="1" height="3" fill="#000000"/>
<rect x="1285" y="841" width="1" height="3" fill="#000000"/>
<rect x="1349" y="841" width="1" height="3" fill="#000000"/>
</g>
<text x="4.13" y="852.75" font-size="10.1" fill="#000" stroke="#000" stroke-width="0.22" textLength="51.18" lengthAdjust="spacingAndGlyphs" text-rendering="geometricPrecision">27 Oct 2022</text>
<text x="68.13" y="852.75" font-size="10.1" fill="#000" stroke="#000" stroke-width="0.22" textLength="54.16" lengthAdjust="spacingAndGlyphs" text-rendering="geometricPrecision">28 Oct 08:00</text>
<text x="132.13" y="852.75" font-size="10.1" fill="#000" stroke="#000" stroke-width="0.22" textLength="54.16" lengthAdjust="spacingAndGlyphs" text-rendering="geometricPrecision">31 Oct 00:00</text>
<text x="196.13" y="852.75" font-size="10.1" fill="#000" stroke="#000" stroke-width="0.22" textLength="54.16" lengthAdjust="spacingAndGlyphs" text-rendering="geometricPrecision">31 Oct 16:00</text>
<text x="259.88" y="852.75" font-size="10.1" fill="#000" stroke="#000" stroke-width="0.22" textLength="52.34" lengthAdjust="spacingAndGlyphs" text-rendering="geometricPrecision">1 Nov 08:00</text>
<text x="324.12" y="852.75" font-size="10.1" fill="#000" stroke="#000" stroke-width="0.22" textLength="52.10" lengthAdjust="spacingAndGlyphs" text-rendering="geometricPrecision">2 Nov 00:00</text>
<text x="388.12" y="852.75" font-size="10.1" fill="#000" stroke="#000" stroke-width="0.22" textLength="52.10" lengthAdjust="spacingAndGlyphs" text-rendering="geometricPrecision">2 Nov 16:00</text>
<text x="452.12" y="852.75" font-size="10.1" fill="#000" stroke="#000" stroke-width="0.22" textLength="52.10" lengthAdjust="spacingAndGlyphs" text-rendering="geometricPrecision">3 Nov 08:00</text>
<text x="516.36" y="852.75" font-size="10.1" fill="#000" stroke="#000" stroke-width="0.22" textLength="51.85" lengthAdjust="spacingAndGlyphs" text-rendering="geometricPrecision">4 Nov 00:00</text>
<text x="580.36" y="852.75" font-size="10.1" fill="#000" stroke="#000" stroke-width="0.22" textLength="51.85" lengthAdjust="spacingAndGlyphs" text-rendering="geometricPrecision">4 Nov 16:00</text>
<text x="644.12" y="852.75" font-size="10.1" fill="#000" stroke="#000" stroke-width="0.22" textLength="52.10" lengthAdjust="spacingAndGlyphs" text-rendering="geometricPrecision">7 Nov 08:00</text>
<text x="708.12" y="852.75" font-size="10.1" fill="#000" stroke="#000" stroke-width="0.22" textLength="52.10" lengthAdjust="spacingAndGlyphs" text-rendering="geometricPrecision">8 Nov 00:00</text>
<text x="772.12" y="852.75" font-size="10.1" fill="#000" stroke="#000" stroke-width="0.22" textLength="52.10" lengthAdjust="spacingAndGlyphs" text-rendering="geometricPrecision">8 Nov 16:00</text>
<text x="836.12" y="852.75" font-size="10.1" fill="#000" stroke="#000" stroke-width="0.22" textLength="52.10" lengthAdjust="spacingAndGlyphs" text-rendering="geometricPrecision">9 Nov 08:00</text>
<text x="899.89" y="852.75" font-size="10.1" fill="#000" stroke="#000" stroke-width="0.22" textLength="57.20" lengthAdjust="spacingAndGlyphs" text-rendering="geometricPrecision">10 Nov 00:00</text>
<text x="963.89" y="852.75" font-size="10.1" fill="#000" stroke="#000" stroke-width="0.22" textLength="57.20" lengthAdjust="spacingAndGlyphs" text-rendering="geometricPrecision">10 Nov 16:00</text>
<text x="1027.88" y="852.75" font-size="10.1" fill="#000" stroke="#000" stroke-width="0.22" textLength="57.21" lengthAdjust="spacingAndGlyphs" text-rendering="geometricPrecision">11 Nov 08:00</text>
<text x="1091.89" y="852.75" font-size="10.1" fill="#000" stroke="#000" stroke-width="0.22" textLength="57.20" lengthAdjust="spacingAndGlyphs" text-rendering="geometricPrecision">14 Nov 00:00</text>
<text x="1155.89" y="852.75" font-size="10.1" fill="#000" stroke="#000" stroke-width="0.22" textLength="57.20" lengthAdjust="spacingAndGlyphs" text-rendering="geometricPrecision">14 Nov 16:00</text>
<text x="1219.89" y="852.75" font-size="10.1" fill="#000" stroke="#000" stroke-width="0.22" textLength="57.20" lengthAdjust="spacingAndGlyphs" text-rendering="geometricPrecision">15 Nov 08:00</text>
<text x="1283.89" y="852.75" font-size="10.1" fill="#000" stroke="#000" stroke-width="0.22" textLength="57.20" lengthAdjust="spacingAndGlyphs" text-rendering="geometricPrecision">16 Nov 00:00</text>
<text x="1347.89" y="852.75" font-size="10.1" fill="#000" stroke="#000" stroke-width="0.22" textLength="57.20" lengthAdjust="spacingAndGlyphs" text-rendering="geometricPrecision">16 Nov 16:00</text>
<defs><pattern id="ck" width="2" height="2" patternUnits="userSpaceOnUse"><rect width="2" height="2" fill="#f0f0f0"/><rect width="1" height="1" fill="#ffffff"/><rect x="1" y="1" width="1" height="1" fill="#ffffff"/></pattern></defs>
<rect x="2" y="0" width="1" height="19" fill="#a0a0a0" shape-rendering="crispEdges"/>
<defs><linearGradient id="gp" x1="0" y1="0" x2="1" y2="1"><stop offset="0" stop-color="#7dfa7d"/><stop offset="0.5" stop-color="#1fd01f"/><stop offset="1" stop-color="#0a9a0a"/></linearGradient><linearGradient id="gbk" x1="0" y1="0" x2="1" y2="1"><stop offset="0" stop-color="#f6d255"/><stop offset="0.6" stop-color="#e3ab25"/><stop offset="1" stop-color="#b97c10"/></linearGradient><linearGradient id="gcl" x1="0" y1="0" x2="0" y2="1"><stop offset="0" stop-color="#ffffff"/><stop offset="1" stop-color="#c9d4e6"/></linearGradient></defs>
<g><path d="M12.5,1.5 H20.5 L23.5,4.5 V14.5 H12.5 Z" fill="#fdfdfd" stroke="#8a8a8a" stroke-width="1"/><path d="M20.5,1.5 V4.5 H23.5" fill="#e8e8e8" stroke="#8a8a8a" stroke-width="1"/><rect x="14.2" y="3.4" width="3" height="1.4" fill="#9a9a9a"/><path d="M14.2,7 H21 M14.2,9.5 H19 M14.2,12 H17" stroke="#9a9a9a" stroke-width="1"/><path d="M20.3,7.1 H24 V11.1 H27.8 V14.9 H24 V18.7 H20.3 V14.9 H16.4 V11.1 H20.3 Z" fill="url(#gp)" stroke="#0a7a0a" stroke-width="0.8"/></g>
<text x="30.9" y="12.2" font-size="11.6" letter-spacing="0.6" fill="#000" stroke="#000" stroke-width="0.2">新订单</text>
<g><path d="M86.2,2.3 Q91,5.2 95.2,9.8 L87.4,17 L79.2,11.2 Q82,6.4 86.2,2.3 Z" fill="url(#gbk)" stroke="#9a6410" stroke-width="0.9"/><path d="M79.6,11.6 L87.4,17 L95,10.2 L94.6,8.9 L87.2,15.2 L80.4,10.4 Z" fill="#fbe9a8" stroke="#9a6410" stroke-width="0.5"/><path d="M84.5,5.2 Q88.5,7.5 91.5,10.8" stroke="#fae28a" stroke-width="1.3" fill="none"/></g>
<g><path d="M109.3,1.6 L112.8,2.6 V12.8 L109.3,11.2 Z" fill="#1e90ff" stroke="#1668c8" stroke-width="0.5"/><path d="M112.8,2.6 L120.4,1.6 V11.6 L112.8,12.8 Z" fill="#58aef2" stroke="#1e78d8" stroke-width="0.5"/><path d="M109.3,1.6 L116.5,0.9 L120.4,1.6 L112.8,2.6 Z" fill="#8cccff"/><path d="M114.5,5.6 L118.8,5 V6.8 L114.5,7.4 Z" fill="#e6f4ff"/><path d="M109.4,16.3 H120.4 A2.5,2.5 0 0 0 120.6,11.4 A3,3 0 0 0 115.6,10.2 A2.8,2.8 0 0 0 110.6,11.6 A2.4,2.4 0 0 0 109.4,16.3 Z" fill="url(#gcl)" stroke="#5f7db0" stroke-width="0.9"/></g>
<g fill="none"><path d="M143,8.8 L143,17 A8.2,8.2 0 0 0 150.8,6.2 Z" fill="#5fb05f" fill-opacity="0.45"/><circle cx="143" cy="8.8" r="7.6" stroke="#a9bde2" stroke-width="1.1"/><circle cx="143" cy="8.8" r="4.9" stroke="#5b84d0" stroke-width="1.2"/><path d="M143,16.4 A7.6,7.6 0 0 0 150.3,6.6" stroke="#8cc48c" stroke-width="1.2"/><path d="M143,13.7 A4.9,4.9 0 0 0 147.7,7.4" stroke="#5fae5f" stroke-width="1.2"/><circle cx="143" cy="8.7" r="2" fill="#2456c4"/><path d="M143.3,9.5 V16.6" stroke="#1fa01f" stroke-width="1.7"/></g>
<defs><linearGradient id="gfc" x1="0" y1="0" x2="1" y2="1"><stop offset="0" stop-color="#fbeb7a"/><stop offset="1" stop-color="#dfa020"/></linearGradient></defs>
<g><path d="M162.3,9 L169.2,16.8 L177.8,7.6 L171,6 Z" fill="url(#gfc)" stroke="#c89018" stroke-width="0.6"/><ellipse cx="170" cy="6" rx="8.1" ry="2.6" fill="#6db4e6" stroke="#3a84b8" stroke-width="0.8"/><ellipse cx="169.9" cy="3.9" rx="3.9" ry="2.5" fill="#86c6f0" stroke="#3a84b8" stroke-width="0.7"/><circle cx="174.4" cy="12.9" r="4.3" fill="#e42a12" stroke="#b01808" stroke-width="0.6"/><rect x="172.9" y="11.4" width="3.1" height="3.1" fill="#fff"/></g>
<text x="183.6" y="12.2" font-size="11.6" letter-spacing="0.35" fill="#000" stroke="#000" stroke-width="0.2">自动交易</text>
<rect x="238" y="0" width="1" height="19" fill="#a0a0a0" shape-rendering="crispEdges"/>
<g shape-rendering="crispEdges" fill="#b4b4b4">
<rect x="242" y="1" width="3" height="1"/>
<rect x="242" y="3" width="3" height="1"/>
<rect x="242" y="5" width="3" height="1"/>
<rect x="242" y="7" width="3" height="1"/>
<rect x="242" y="9" width="3" height="1"/>
<rect x="242" y="11" width="3" height="1"/>
<rect x="242" y="13" width="3" height="1"/>
<rect x="242" y="15" width="3" height="1"/>
<rect x="242" y="17" width="3" height="1"/>
</g>
<g stroke="#4a4a4a" fill="none"><path stroke-width="1" d="M256.5,3.2 V16.8 M254.2,14.5 H267"/><path stroke-width="0.8" d="M255.1,4.9 L256.5,2.9 L257.9,4.9 M265.6,13.1 L267.4,14.5 L265.6,15.9" /></g>
<path d="M262.8,4.1 V12.5 M262.8,5.4 H265 M260.2,11.5 H262.8" stroke="#0a8a0a" stroke-width="1.2" fill="none"/>
<rect x="276" y="0" width="1" height="19" fill="#a0a0a0" shape-rendering="crispEdges"/>
<rect x="277" y="0" width="25" height="19" fill="url(#ck)" shape-rendering="crispEdges"/>
<g stroke="#4a4a4a" fill="none"><path stroke-width="1" d="M284.5,3.2 V16.8 M282.2,14.5 H295"/><path stroke-width="0.8" d="M283.1,4.9 L284.5,2.9 L285.9,4.9 M293.6,13.1 L295.4,14.5 L293.6,15.9" /></g>
<path d="M290.5,1.5 V12.5" stroke="#0a7a0a" stroke-width="1"/><rect x="288.5" y="3.5" width="4" height="7" fill="#18d818" stroke="#0a7a0a" stroke-width="1"/>
<g stroke="#4a4a4a" fill="none"><path stroke-width="1" d="M312.5,3.2 V16.8 M310.2,14.5 H323"/><path stroke-width="0.8" d="M311.1,4.9 L312.5,2.9 L313.9,4.9 M321.6,13.1 L323.4,14.5 L321.6,15.9" /></g>
<path d="M311.3,11.6 C313.5,9.5 315.5,6 317.5,6.2 C319.5,6.4 320.8,9.2 322.8,10" stroke="#1f9a1f" stroke-width="1.1" fill="none"/>
<rect x="333" y="0" width="1" height="19" fill="#a0a0a0" shape-rendering="crispEdges"/>
<g><path d="M352.2,11.8 L356.4,15.6" stroke="#b88a14" stroke-width="3.4" stroke-linecap="butt"/><path d="M352.2,11.8 L356.4,15.6" stroke="#ecd040" stroke-width="1.8" stroke-linecap="butt"/><circle cx="348" cy="7.3" r="5.5" fill="#d4f0fb" stroke="#3c82d0" stroke-width="1.1"/><path d="M345,7.3 H351 M348,4.3 V10.3" stroke="#3f8fbc" stroke-width="1.8"/></g>
<g><path d="M380.2,11.8 L384.4,15.6" stroke="#b88a14" stroke-width="3.4" stroke-linecap="butt"/><path d="M380.2,11.8 L384.4,15.6" stroke="#ecd040" stroke-width="1.8" stroke-linecap="butt"/><circle cx="376" cy="7.3" r="5.5" fill="#d4f0fb" stroke="#3c82d0" stroke-width="1.1"/><path d="M373,7.3 H379" stroke="#3f8fbc" stroke-width="1.8"/></g>
<g><rect x="398" y="1.2" width="8.1" height="7.9" rx="1" fill="#3fa31c"/><rect x="406" y="1.2" width="8.1" height="7.9" rx="1" fill="#2252c6"/><rect x="398" y="9" width="8.1" height="7.9" rx="1" fill="#2252c6"/><rect x="406" y="9" width="8.1" height="7.9" rx="1" fill="#3fa31c"/><path d="M399.4,8.2 V5 Q399.4,4.4 400,4.4 H404.6 Q405.2,4.4 405.2,5 V8.2 H404 V7.4 H400.6 V8.2 Z" fill="#f4faf0"/><path d="M407.4,8.2 V5 Q407.4,4.4 408,4.4 H412.6 Q413.2,4.4 413.2,5 V8.2 H412 V7.4 H408.6 V8.2 Z" fill="#f0f4fd"/><path d="M399.4,16 V12.8 Q399.4,12.2 400,12.2 H404.6 Q405.2,12.2 405.2,12.8 V16 H404 V15.2 H400.6 V16 Z" fill="#f0f4fd"/><path d="M407.4,16 V12.8 Q407.4,12.2 408,12.2 H412.6 Q413.2,12.2 413.2,12.8 V16 H412 V15.2 H408.6 V16 Z" fill="#f4faf0"/><path d="M400.6,5.9 H404" stroke="#9fd08a" stroke-width="0.8"/><path d="M408.6,5.9 H412" stroke="#90a8e8" stroke-width="0.8"/><path d="M400.6,13.7 H404" stroke="#90a8e8" stroke-width="0.8"/><path d="M408.6,13.7 H412" stroke="#9fd08a" stroke-width="0.8"/></g>
<rect x="423" y="0" width="1" height="19" fill="#a0a0a0" shape-rendering="crispEdges"/>
<rect x="428" y="0" width="1" height="19" fill="#a0a0a0" shape-rendering="crispEdges"/>
<rect x="429" y="0" width="24" height="19" fill="url(#ck)" shape-rendering="crispEdges"/>
<g stroke="#4a4a4a" fill="none"><path stroke-width="1" d="M436.5,3.2 V16.8 M434.2,14.5 H447"/><path stroke-width="0.8" d="M435.1,4.9 L436.5,2.9 L437.9,4.9 M445.6,13.1 L447.4,14.5 L445.6,15.9" /></g>
<polygon points="441.2,5.4 441.2,11.6 445,8.5" fill="#6fe26f" stroke="#0f960f" stroke-width="1"/>
<rect x="456" y="0" width="1" height="19" fill="#a0a0a0" shape-rendering="crispEdges"/>
<rect x="457" y="0" width="24" height="19" fill="url(#ck)" shape-rendering="crispEdges"/>
<g stroke="#4a4a4a" fill="none"><path stroke-width="1" d="M464.5,3.2 V16.8 M462.2,14.5 H475"/><path stroke-width="0.8" d="M463.1,4.9 L464.5,2.9 L465.9,4.9 M473.6,13.1 L475.4,14.5 L473.6,15.9" /></g>
<path d="M470.5,3 V12.7" stroke="#2070b0" stroke-width="1.2"/><path d="M471.3,8.5 L474.2,6.3 L473.6,8 H476 V9 H473.6 L474.2,10.7 Z" fill="#e04800"/>
<rect x="485" y="0" width="1" height="19" fill="#a0a0a0" shape-rendering="crispEdges"/>
<g><path d="M496,1.5 H502.5 L506,5 V13.5 H496 Z" fill="#fcfcfc" stroke="#8a8a8a" stroke-width="1"/><path d="M502.5,1.5 V5 H506" fill="#e8e8e8" stroke="#8a8a8a" stroke-width="1"/><path d="M499,5 Q497.6,7.5 499,10 M500,7.5 H502" stroke="#707070" stroke-width="0.9" fill="none"/><path d="M503.3,7.3 H507 V11 H510.7 V14.8 H507 V18.5 H503.3 V14.8 H499.5 V11 H503.3 Z" fill="url(#gp)" stroke="#0a7a0a" stroke-width="0.8"/></g>
<polygon points="516.8,8 522.1999999999999,8 519.5,11" fill="#000"/>
<defs><linearGradient id="gck" x1="0" y1="0" x2="0" y2="1"><stop offset="0" stop-color="#2a8ae8"/><stop offset="1" stop-color="#0f4a9c"/></linearGradient></defs><g><circle cx="541" cy="8.9" r="6.7" fill="#f4f6fa" stroke="url(#gck)" stroke-width="2.5"/><path d="M540.6,5 V9 L543.8,9.6" stroke="#303030" stroke-width="1.1" fill="none"/><path d="M540,11.6 H542" stroke="#4a90e0" stroke-width="0.8"/></g>
<polygon points="555.8,8 561.1999999999999,8 558.5,11" fill="#000"/>
<g><rect x="572.5" y="2.5" width="15.5" height="13" fill="#ffffff" stroke="#2f62c2" stroke-width="1"/><rect x="572.5" y="2.5" width="15.5" height="2" fill="#5a8ae0"/><path d="M573,10 H588" stroke="#2f62c2" stroke-width="1"/><path d="M574.5,7.8 L577.5,6.6 L580,7.6 L583,6 L586,6.6" stroke="#a82a10" stroke-width="1.4" fill="none"/><path d="M574.5,13.4 L577.5,12.6 L580,13.4 L583,11.6 L586,13" stroke="#148a14" stroke-width="1.4" fill="none"/></g>
<polygon points="594.8,8 600.1999999999999,8 597.5,11" fill="#000"/>
<rect x="606" y="0" width="1" height="21" fill="#a0a0a0" shape-rendering="crispEdges"/>
<g shape-rendering="crispEdges" fill="#b4b4b4">
<rect x="610" y="1" width="3" height="1"/>
<rect x="610" y="3" width="3" height="1"/>
<rect x="610" y="5" width="3" height="1"/>
<rect x="610" y="7" width="3" height="1"/>
<rect x="610" y="9" width="3" height="1"/>
<rect x="610" y="11" width="3" height="1"/>
<rect x="610" y="13" width="3" height="1"/>
<rect x="610" y="15" width="3" height="1"/>
<rect x="610" y="17" width="3" height="1"/>
</g>
<rect x="616" y="0" width="1" height="19" fill="#a0a0a0" shape-rendering="crispEdges"/>
<rect x="617" y="0" width="24" height="19" fill="url(#ck)" shape-rendering="crispEdges"/>
<polygon points="624,2 624,13.4 626.9,10.9 629.4,16.3 631.2,15.5 628.8,10.2 632.6,10.2" fill="#404040"/>
<path d="M656.5,2 V8 M656.5,10.6 V17 M649,9.3 H655.2 M657.8,9.3 H664" stroke="#4a4a4a" stroke-width="1.1"/>
<rect x="673" y="0" width="1" height="19" fill="#a0a0a0" shape-rendering="crispEdges"/>
<path d="M690.4,3 V16" stroke="#585858" stroke-width="1.1"/>
<path d="M713,9.4 H725.2" stroke="#585858" stroke-width="1.1"/>
<path d="M741,16 L753,3.8" stroke="#585858" stroke-width="1.1"/>
<g stroke="#4a4a4a" stroke-width="0.9" fill="none"><path d="M766.8,11 L779.5,1.6 M769.2,15.8 L781.6,6.4 M768,13.4 L780.6,4" /><path d="M771,5.4 L772.2,14.6 M774.6,3.2 L775.6,12.2 M778.4,1 L779.2,9.4"/></g>
<text x="777.6" y="17.6" font-size="6.5" font-weight="bold" fill="#4a4a4a">E</text>
<g stroke="#555" stroke-width="1" stroke-dasharray="1 1" shape-rendering="crispEdges"><path d="M796,2.5 H809 M796,5.5 H809 M796,9.5 H809 M796,13.5 H804"/></g>
<text x="805" y="17.6" font-size="6.5" font-weight="bold" fill="#4a4a4a">F</text>
<text x="826.8" y="13.9" font-size="12" fill="#565656" stroke="#565656" stroke-width="0.55" text-rendering="geometricPrecision" textLength="8.2" lengthAdjust="spacingAndGlyphs">A</text>
<rect x="853" y="3" width="11.5" height="12.5" fill="none" stroke="#555" stroke-width="1" stroke-dasharray="1 1" shape-rendering="crispEdges"/>
<text x="854.7" y="13.6" font-size="11.5" fill="#565656" stroke="#565656" stroke-width="0.5" text-rendering="geometricPrecision">T</text>
<g fill="#4a4a4a"><polygon points="880.5,5.5 883.8,2 887,5.5 883.8,7"/><polygon points="887.5,12.5 890.8,10.5 894,12.5 890.8,16"/><path d="M882,8.5 L884.6,11.8 L889.2,6.2" stroke="#4a4a4a" stroke-width="1.3" fill="none"/></g>
<polygon points="900.6,8 906.0,8 903.3000000000001,11" fill="#000"/>
<rect x="912" y="0" width="1" height="19" fill="#a0a0a0" shape-rendering="crispEdges"/>
<g shape-rendering="crispEdges" fill="#b4b4b4">
<rect x="915.6" y="1" width="3" height="1"/>
<rect x="915.6" y="3" width="3" height="1"/>
<rect x="915.6" y="5" width="3" height="1"/>
<rect x="915.6" y="7" width="3" height="1"/>
<rect x="915.6" y="9" width="3" height="1"/>
<rect x="915.6" y="11" width="3" height="1"/>
<rect x="915.6" y="13" width="3" height="1"/>
<rect x="915.6" y="15" width="3" height="1"/>
<rect x="915.6" y="17" width="3" height="1"/>
</g>
<rect x="1063" y="0" width="25" height="19" fill="url(#ck)" shape-rendering="crispEdges"/>
<rect x="1062" y="0" width="1" height="19" fill="#a0a0a0" shape-rendering="crispEdges"/>
<text x="927.3" y="12.85" font-size="10.1" fill="#3c3c3c" stroke="#3c3c3c" stroke-width="0.2" text-rendering="geometricPrecision" textLength="13" lengthAdjust="spacingAndGlyphs">M1</text>
<text x="955.4" y="12.85" font-size="10.1" fill="#3c3c3c" stroke="#3c3c3c" stroke-width="0.2" text-rendering="geometricPrecision" textLength="13" lengthAdjust="spacingAndGlyphs">M5</text>
<text x="981.8" y="12.85" font-size="10.1" fill="#3c3c3c" stroke="#3c3c3c" stroke-width="0.2" text-rendering="geometricPrecision" textLength="17.7" lengthAdjust="spacingAndGlyphs">M15</text>
<text x="1009.2" y="12.85" font-size="10.1" fill="#3c3c3c" stroke="#3c3c3c" stroke-width="0.2" text-rendering="geometricPrecision" textLength="18.5" lengthAdjust="spacingAndGlyphs">M30</text>
<text x="1040" y="12.85" font-size="10.1" fill="#3c3c3c" stroke="#3c3c3c" stroke-width="0.2" text-rendering="geometricPrecision" textLength="12.3" lengthAdjust="spacingAndGlyphs">H1</text>
<text x="1067.3" y="12.85" font-size="10.1" fill="#3c3c3c" stroke="#3c3c3c" stroke-width="0.2" text-rendering="geometricPrecision" textLength="12.8" lengthAdjust="spacingAndGlyphs">H4</text>
<text x="1096" y="12.85" font-size="10.1" fill="#3c3c3c" stroke="#3c3c3c" stroke-width="0.2" text-rendering="geometricPrecision" textLength="12.6" lengthAdjust="spacingAndGlyphs">D1</text>
<text x="1123.6" y="12.85" font-size="10.1" fill="#3c3c3c" stroke="#3c3c3c" stroke-width="0.2" text-rendering="geometricPrecision" textLength="15" lengthAdjust="spacingAndGlyphs">W1</text>
<text x="1150.4" y="12.85" font-size="10.1" fill="#3c3c3c" stroke="#3c3c3c" stroke-width="0.2" text-rendering="geometricPrecision" textLength="15.4" lengthAdjust="spacingAndGlyphs">MN</text>
<rect x="1173" y="0" width="1" height="19" fill="#a0a0a0" shape-rendering="crispEdges"/>
<g><circle cx="1643.6" cy="6.3" r="3.6" fill="#f4f8ff" stroke="#2a5ad0" stroke-width="1.3"/><path d="M1641,9 L1636,14" stroke="#2a5ad0" stroke-width="2" stroke-linecap="round"/></g>
<g><path d="M1661,11 A4.6,4.2 0 1 1 1666.5,15 L1663.5,17.5 L1664,15 A4.6,4.2 0 0 1 1661,11 Z" fill="#e8eaf0" stroke="#b8bcc8" stroke-width="0.8"/><defs><linearGradient id="bg1" x1="0" y1="0" x2="0" y2="1"><stop offset="0" stop-color="#ea5a3a"/><stop offset="1" stop-color="#d81c0c"/></linearGradient></defs><circle cx="1674.3" cy="6.4" r="8.5" fill="url(#bg1)"/><text x="1674.3" y="10.9" font-size="12.5" fill="#fff" text-anchor="middle">1</text></g>
</svg>
</body></html>
